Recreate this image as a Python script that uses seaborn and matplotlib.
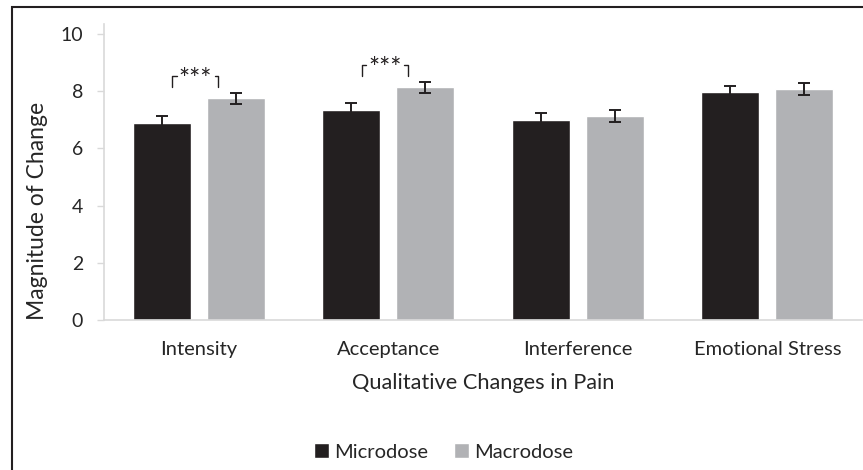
import pandas as pd
import matplotlib.pyplot as plt
import seaborn as sns
from matplotlib.patches import Rectangle

# Values
categories = ['Intensity', 'Acceptance', 'Interference', 'Emotional Stress']
groups = ['Microdose', 'Macrodose']
micro_vals = [6.90, 7.33, 6.99, 7.98]
macro_vals = [7.75, 8.13, 7.14, 8.07]
micro_err = [0.23, 0.26, 0.24, 0.21]
macro_err = [0.19, 0.20, 0.21, 0.20]
significant = ['Intensity', 'Acceptance']

df = pd.DataFrame({
    'category': categories * 2,
    'dose': [groups[0]] * 4 + [groups[1]] * 4,
    'value': micro_vals + macro_vals,
})

sns.set_style("white")
plt.rcParams['font.family'] = ['Lato', 'DejaVu Sans']

fig = plt.figure(figsize=(8.63, 4.70), dpi=100)
ax = fig.add_axes([104 / 863, 150 / 470, 758 / 863, 296 / 470])

colors = {'Microdose': '#231f20', 'Macrodose': '#b1b2b5'}
sns.barplot(data=df, x='category', y='value', hue='dose', order=categories,
            hue_order=groups, palette=colors, width=0.78, gap=0.216,
            errorbar=None, saturation=1, ax=ax)

# error bars on top of the bars seaborn drew
for cont, errs in zip(ax.containers, [micro_err, macro_err]):
    xs = [b.get_x() + b.get_width() / 2 for b in cont]
    hs = [b.get_height() for b in cont]
    ax.errorbar(xs, hs, yerr=errs, fmt='none', ecolor='#231f20',
                elinewidth=1.4, capsize=4.3, capthick=1.4, zorder=5)

# significance brackets
for cat in significant:
    i = categories.index(cat)
    b0 = ax.containers[0][i]
    b1 = ax.containers[1][i]
    c0 = b0.get_x() + b0.get_width() / 2
    c1 = b1.get_x() + b1.get_width() / 2
    top = max(micro_vals[i] + micro_err[i], macro_vals[i] + macro_err[i])
    y_lo = top + 0.21
    y_hi = y_lo + 0.37
    xl = c0 + 0.056
    xr = c1 - 0.093
    xm = (xl + xr) / 2
    kw = dict(color='#231f20', lw=1.0)
    ax.plot([xl, xl, xl + 0.022], [y_lo, y_hi, y_hi], **kw)
    ax.plot([xr - 0.018, xr, xr], [y_hi, y_hi, y_lo], **kw)
    ax.text(xm, y_hi - 0.40, '***', ha='center', va='baseline', fontsize=19,
            color='#231f20')

ax.set_ylim(0, 10.35)
ax.set_yticks([0, 2, 4, 6, 8, 10])
ax.set_xlim(-0.5, 3.5)

for s in ['top', 'right']:
    ax.spines[s].set_visible(False)
for s in ['left', 'bottom']:
    ax.spines[s].set_color('#d9d9d9')
    ax.spines[s].set_linewidth(1.2)

ax.tick_params(axis='y', length=5, width=1, color='#d9d9d9', pad=10,
               labelsize=14, labelcolor='#262626', left=True)
ax.tick_params(axis='x', length=0, pad=15, labelsize=14.5, labelcolor='#262626')

ax.set_xlabel('Qualitative Changes in Pain', fontsize=15.7, color='#262626',
              labelpad=11)
ax.set_ylabel('Magnitude of Change', fontsize=16.5, color='#262626')
ax.yaxis.set_label_coords(-0.074, 0.37)

sns.move_legend(ax, 'center', bbox_to_anchor=(0.448, -0.446), ncol=2,
                frameon=False, title=None, fontsize=14.5, handlelength=0.75,
                handleheight=0.75, handletextpad=0.25, columnspacing=1.3)
for t in ax.get_legend().get_texts():
    t.set_color('#262626')

# outer frame (only the top and left edges are in view)
fig.add_artist(Rectangle((12 / 863, -0.1), 1.2, 463 / 470 + 0.1,
                         transform=fig.transFigure, fill=False,
                         edgecolor='#231f20', lw=1.5))

fig.savefig('out.png', dpi=100)
plt.close(fig)
